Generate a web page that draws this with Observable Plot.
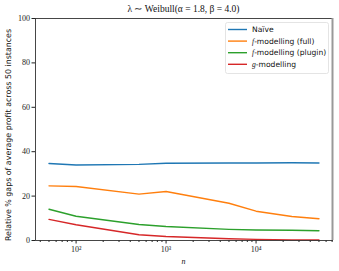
<!DOCTYPE html>
<html><head><meta charset="utf-8">
<script src="https://cdn.jsdelivr.net/npm/d3@7"></script>
<script src="https://cdn.jsdelivr.net/npm/@observablehq/plot@0.6"></script>
<style>
body{margin:0;background:#fff;}
#chart{position:relative;width:339px;height:271px;}
</style></head><body><div id="chart"></div>
<script>
const nValues = [50, 100, 500, 1000, 5000, 10000, 25000, 50000];
const naive = [34.7, 34.0, 34.3, 34.8, 34.9, 34.9, 35.0, 34.9];
const fFull = [24.6, 24.3, 20.9, 22.1, 16.8, 13.2, 10.8, 9.8];
const fPlugin = [14.1, 10.9, 7.2, 6.3, 5.0, 4.7, 4.6, 4.4];
const gModel = [9.5, 7.1, 2.6, 1.8, 0.8, 0.5, 0.3, 0.2];
const seriesNames = ["Naïve", "f-modelling (full)", "f-modelling (plugin)", "g-modelling"];
const seriesColors = ["#1f77b4", "#ff7f0e", "#2ca02c", "#d62728"];
const yTicks = [0, 20, 40, 60, 80, 100];
const xMajor = [100, 1000, 10000];
const xMinor = [40,50,60,70,80,90,200,300,400,500,600,700,800,900,2000,3000,4000,5000,6000,7000,8000,9000,20000,30000,40000,50000,60000,70000];

const allSeries = [naive, fFull, fPlugin, gModel];
const rows = [];
allSeries.forEach((vals, si) => vals.forEach((v, i) => rows.push({n: nValues[i], v, s: seriesNames[si]})));

const sup = {"0":"⁰","1":"¹","2":"²","3":"³","4":"⁴","5":"⁵"};
const serif = "'Liberation Serif', serif";
const sans = "'DejaVu Sans', sans-serif";

const plot = Plot.plot({
  width: 339, height: 271,
  marginLeft: 35, marginRight: 7, marginTop: 18, marginBottom: 31,
  style: {fontFamily: serif, fontSize: "8px", background: "#fff", overflow: "visible", color: "#222"},
  x: {type: "log", domain: [35.4, 70700]},
  y: {domain: [0, 100]},
  color: {domain: seriesNames, range: seriesColors},
  marks: [
    Plot.line(rows, {x: "n", y: "v", stroke: "s", strokeWidth: 1.4}),
    Plot.axisY({ticks: yTicks, tickSize: 3.5, tickPadding: 2, label: null, fontFamily: serif, tickFormat: d => String(d)}),
    Plot.axisX({ticks: xMajor, tickSize: 3.5, tickPadding: 2, label: null, fontFamily: serif,
      tickFormat: d => "10" + String(Math.round(Math.log10(d))).split("").map(c => sup[c]).join("")}),
    Plot.axisX({ticks: xMinor, tickSize: 2, tickFormat: () => "", label: null}),
    Plot.frame({stroke: "#333", strokeWidth: 0.9})
  ]
});
document.getElementById("chart").appendChild(plot);

const svg = d3.select(plot);
svg.append("line").attr("x1", 332.5).attr("x2", 332.5).attr("y1", 18).attr("y2", 240)
  .attr("stroke", "#999").attr("stroke-width", 2);
svg.append("text").attr("x", 183.5).attr("y", 12).attr("text-anchor", "middle")
  .attr("font-family", serif).attr("font-size", "9.5px").attr("fill", "#111")
  .text("λ ∼ Weibull(α = 1.8, β = 4.0)");
svg.append("text").attr("x", 183.5).attr("y", 264).attr("text-anchor", "middle")
  .attr("font-family", serif).attr("font-style", "italic").attr("font-size", "8px").attr("fill", "#111").text("n");
svg.append("text").attr("transform", "translate(10.5,135) rotate(-90)").attr("text-anchor", "middle")
  .attr("font-family", sans).attr("font-size", "7.9px").attr("fill", "#111")
  .text("Relative % gaps of average profit across 50 instances");
const lg = svg.append("g");
lg.append("rect").attr("x", 225.5).attr("y", 22.5).attr("width", 103).attr("height", 51).attr("rx", 2)
  .attr("fill", "#fff").attr("fill-opacity", 0.8).attr("stroke", "#ddd").attr("stroke-width", 0.8);
seriesNames.forEach((name, i) => {
  const y = 29.5 + i * 11.6;
  lg.append("line").attr("x1", 228).attr("x2", 247).attr("y1", y).attr("y2", y)
    .attr("stroke", seriesColors[i]).attr("stroke-width", 1.4);
  const t = lg.append("text").attr("x", 252).attr("y", y + 2.7).attr("text-anchor", "start")
    .attr("font-family", sans).attr("font-size", "7.6px").attr("fill", "#111");
  if (name[0] === "f" || name[0] === "g") {
    t.append("tspan").attr("font-family", serif).attr("font-style", "italic").text(name[0]);
    t.append("tspan").text(name.slice(1));
  } else t.text(name);
});
</script></body></html>
